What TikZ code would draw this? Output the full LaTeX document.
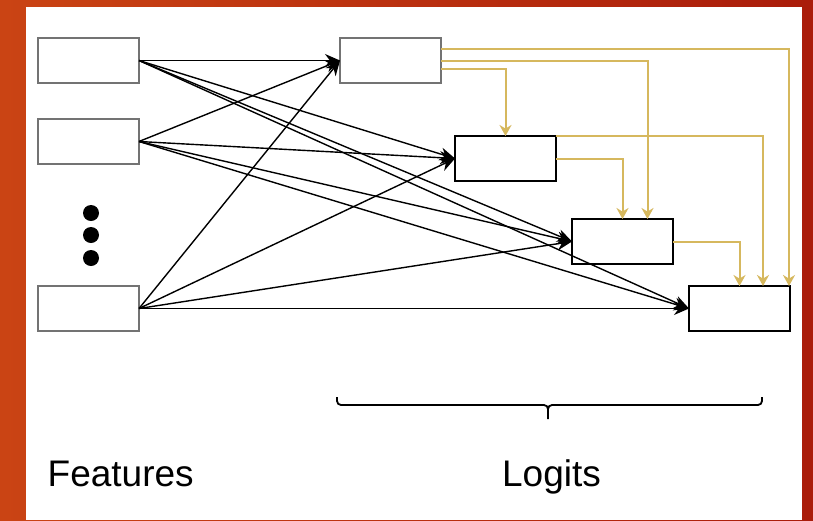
\documentclass[tikz,border=0pt]{standalone}
\usepackage{fontspec}
\setmainfont{Liberation Sans}
\usetikzlibrary{arrows.meta, positioning}

\definecolor{frameleft}{RGB}{202,68,20}
\definecolor{frameright}{RGB}{170,28,10}
\definecolor{skipgold}{RGB}{214,184,94}

\begin{document}
\begin{tikzpicture}[
    x = 1pt, y = -1pt, % picture measured in pixels, y pointing down
    > = {Stealth[length=15pt, width=13pt]}, % arrow head style
    node distance = 36pt,
    line width = 1.4pt
    ]

    \tikzset{
    box/.style = {draw = black, line width = 1.5pt, fill = white,
        minimum width = 101pt, minimum height = 45pt, inner sep = 0pt, outer sep = 0pt},
    greybox/.style = {box, draw = black!55, line width = 2pt},
    dot/.style = {circle, fill = black, minimum size = 16pt, inner sep = 0pt},
    skip/.style = {draw = skipgold, line width = 2pt, -{Stealth[length=11pt, width=12pt]}},
    label/.style = {font = \fontsize{37}{44}\selectfont, inner sep = 0pt}
    }

    % frame and white slide
    \useasboundingbox (0,0) rectangle (813,520);
    \shade[left color = frameleft, right color = frameright] (0,0) rectangle (813,520);
    \fill[white] (26,7) rectangle (802,520);

    % features
    \node[greybox] (F1) at (88.5,60.5) {};
    \node[greybox] (F2) [below=of F1] {};
    \node[greybox] (F3) [below=122pt of F2] {};
    \foreach \y [count=\i] in {213,235,258}
        \node[dot] (d\i) at (91,\y) {};

    % logits
    \node[greybox] (L1) [right=201pt of F1] {};
    \node[box] (L2) [below right=53pt and 14pt of L1] {};
    \node[box] (L3) [below right=38pt and 16pt of L2] {};
    \node[box] (L4) [below right=22pt and 16pt of L3] {};

    % every feature feeds every logit
    \foreach \f in {F1,F2,F3}
        \foreach \l in {L1,L2,L3,L4}
            \draw[->] (\f.east) -- (\l.west);

    % earlier logits feed later ones
    \draw[skip] ([yshift=11.5pt]L1.east) -| ([xshift=-1pt]L4.north east);
    \draw[skip] (L1.east) -| ([xshift=25pt]L3.north);
    \draw[skip] ([yshift=-8.5pt]L1.east) -| (L2.north);
    \draw[skip] (L2.north east) -| ([xshift=23.5pt]L4.north);
    \draw[skip] (L2.east) -| (L3.north);
    \draw[skip] (L3.east) -| (L4.north);

    % brace under the logits
    \coordinate (bleft) at (337,397);
    \coordinate (bright) at (762,397);
    \coordinate (btip) at (548,419);
    \draw[line width = 1.8pt, rounded corners = 4pt]
        (bleft) |- (btip |- 0,405) -- (btip)
        (bright) |- (btip |- 0,405) -- (btip);

    \node[label, anchor = base west] (feat) at (47,486) {Features};
    \node[label, anchor = base] (logit) at (551.5,486) {Logits};

\end{tikzpicture}
\end{document}
